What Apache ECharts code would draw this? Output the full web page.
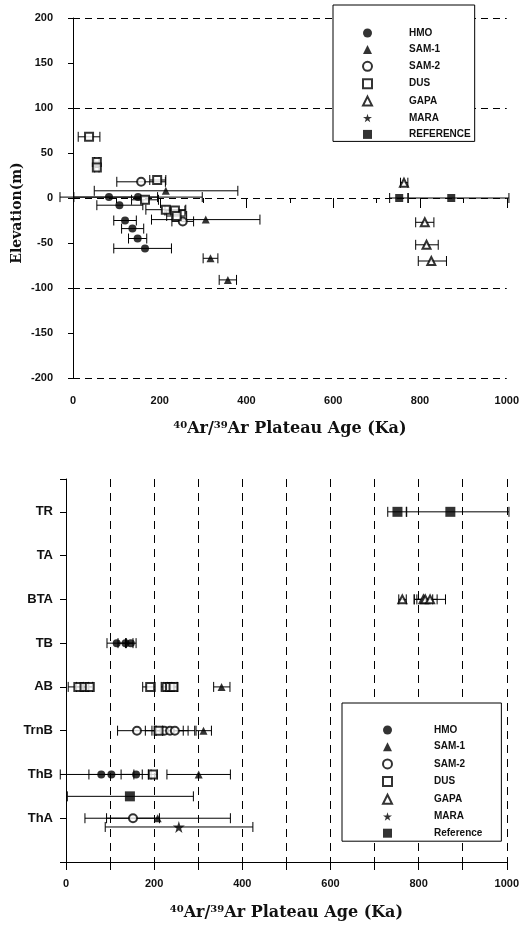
<!DOCTYPE html>
<html>
<head>
<meta charset="utf-8">
<script src="https://cdn.jsdelivr.net/npm/echarts@6/dist/echarts.min.js"></script>
<style>
    html, body { margin: 0; padding: 0; background: #fff; }
    #chart { width: 522px; height: 933px; }
</style>
</head>
<body>
<div id="chart"></div>
<script>
// [age, elevation, ageLow, ageHigh]
var topHmo = [[83, 1, -30, 195], [150, 1, 2, 298], [107, -8, 55, 161], [120, -25, 94, 146], [137, -34, 112, 163], [149, -45, 128, 170], [166, -56, 94, 227]];
var topSam1 = [[214, 8, 49, 380], [306, -24, 181, 431], [317, -67, 300, 334], [357, -91, 337, 377]];
var topSam2 = [[157, 18, 101, 213], [253, -26, 228, 278]];
var topDus = [[37, 68, 12, 62], [55, 40, 50, 60], [55, 34, 50, 60], [194, 20, 177, 214], [166, -2, 135, 197], [214, -13, 168, 260], [235, -14, 212, 258], [239, -20, 216, 262]];
var topGapa = [[763, 17, 755, 772], [811, -27, 790, 832], [815, -52, 790, 842], [826, -70, 796, 861]];
var topRef = [[752, 0, 730, 772], [872, 0, 773, 1005]];

// [age, row, ageLow, ageHigh]
var botCats = ['ThA', 'ThB', 'TrnB', 'AB', 'TB', 'BTA', 'TA', 'TR'];
var botHmo = [[115, 5, 93, 137], [135, 5, 118, 152], [147, 5, 135, 159], [80, 2, -13, 173], [103, 2, 52, 154], [159, 2, 125, 193]];
var botSam1 = [[353, 4, 335, 372], [312, 3, 295, 330], [301, 2, 229, 373], [208, 1, 43, 373]];
var botSam2 = [[161, 3, 117, 205], [223, 3, 180, 266], [236, 3, 195, 277], [247, 3, 202, 292], [152, 1, 92, 212]];
var botDus = [[28, 4, 5, 51], [42, 4, 24, 60], [54, 4, 40, 61], [191, 4, 174, 202], [228, 4, 216, 240], [236, 4, 222, 250], [244, 4, 230, 253], [210, 3, 201, 219], [197, 2, 187, 207]];
var botGapa = [[763, 6, 755, 772], [811, 6, 790, 832], [815, 6, 790, 842], [826, 6, 796, 861]];
var botMara = [[256, 0.8, 89, 424]];
var botRef = [[752, 8, 730, 772], [872, 8, 773, 1005], [145, 1.5, 3, 289]];

var topNames = ['HMO', 'SAM-1', 'SAM-2', 'DUS', 'GAPA', 'MARA', 'REFERENCE'];
var botNames = ['HMO', 'SAM-1', 'SAM-2', 'DUS', 'GAPA', 'MARA', 'Reference'];

var star = 'path://M50,0 L61,35 L98,35 L68,57 L79,91 L50,70 L21,91 L32,57 L2,35 L39,35 Z';
var axisFont = { fontFamily: 'Arial', fontWeight: 'bold', fontSize: 11, color: '#111', formatter: function (v) { return String(v); } };
var titleStyle = {
    fontFamily: 'DejaVu Serif', fontWeight: 'bold', fontSize: 16, color: '#111',
    rich: { s: { fontFamily: 'DejaVu Serif', fontWeight: 'bold', fontSize: 10, color: '#111', padding: [0, 0, 7, 0] } }
};
var ageTitle = '{s|40}Ar/{s|39}Ar Plateau Age (Ka)';

function pts(arr) {
    return arr.map(function (p) { return [p[0], p[1]]; });
}
function bars(list) {
    var out = [];
    list.forEach(function (arr) {
        arr.forEach(function (p) { out.push([p[2], p[3], p[1]]); });
    });
    return out;
}
function renderBar(params, api) {
    var y = api.value(2);
    var a = api.coord([api.value(0), y]);
    var b = api.coord([api.value(1), y]);
    var h = 5;
    var st = { stroke: '#000', lineWidth: 1, fill: null };
    return {
        type: 'group', children: [
            { type: 'line', shape: { x1: a[0], y1: a[1], x2: b[0], y2: b[1] }, style: st },
            { type: 'line', shape: { x1: a[0], y1: a[1] - h, x2: a[0], y2: a[1] + h }, style: st },
            { type: 'line', shape: { x1: b[0], y1: b[1] - h, x2: b[0], y2: b[1] + h }, style: st }
        ]
    };
}
function scat(name, data, idx, symbol, size) {
    return {
        name: name, type: 'scatter', xAxisIndex: idx, yAxisIndex: idx, z: 5,
        symbol: symbol, symbolSize: size, data: pts(data),
        itemStyle: { color: '#000', borderColor: '#000', borderWidth: symbol.indexOf('empty') === 0 ? 1.2 : 0 }
    };
}
function legendFor(names, left, top, pad, txtPad, gap) {
    return {
        orient: 'vertical', left: left, top: top, itemWidth: 9, itemHeight: 9, itemGap: gap,
        padding: pad, backgroundColor: '#fff', borderColor: '#000', borderWidth: 1,
        selectedMode: false, data: names,
        formatter: function (n) { return '{t|' + n + '}'; },
        textStyle: { rich: { t: { padding: [0, 0, 0, txtPad], fontFamily: 'Arial', fontWeight: 'bold', fontSize: 10, lineHeight: 10, color: '#111' } } }
    };
}

var chart = echarts.init(document.getElementById('chart'));
var option = {
    backgroundColor: '#fff',
    animation: false,
    grid: [
        { left: 73, right: 15, top: 18, height: 360 },
        { left: 66, right: 8, top: 479, height: 383 }
    ],
    legend: [
        legendFor(topNames, 333, 5, [23, 4, 2, 29], 32, 6.4),
        legendFor(botNames, 342, 703, [22, 19, 3, 40], 37, 6.7)
    ],
    graphic: [{
        type: 'text', x: 17, y: 213, rotation: Math.PI / 2,
        style: { text: 'Elevation(m)', fontFamily: 'DejaVu Serif', fontWeight: 'bold', fontSize: 14, fill: '#111', align: 'center', verticalAlign: 'middle' }
    }],
    xAxis: [{
        gridIndex: 0, type: 'value', min: 0, max: 1000, interval: 200,
        axisLine: { show: false },
        axisTick: { show: true, length: 10, lineStyle: { color: '#000' } },
        minorTick: { show: true, splitNumber: 2, length: 5, lineStyle: { color: '#000' } },
        splitLine: { show: false },
        axisLabel: Object.assign({ margin: 17 }, axisFont),
        name: ageTitle, nameLocation: 'middle', nameGap: 42, nameTextStyle: titleStyle
    }, {
        gridIndex: 1, type: 'value', min: 0, max: 1000, interval: 200,
        axisLine: { show: true, lineStyle: { color: '#000', width: 1 } },
        axisTick: { show: true, length: 8, lineStyle: { color: '#000' } },
        minorTick: { show: true, splitNumber: 2, length: 8, lineStyle: { color: '#000' } },
        splitLine: { show: true, lineStyle: { color: '#000', type: [8, 6], width: 1 } },
        minorSplitLine: { show: true, lineStyle: { color: '#000', type: [8, 6], width: 1 } },
        axisLabel: Object.assign({ margin: 16 }, axisFont),
        name: ageTitle, nameLocation: 'middle', nameGap: 42, nameTextStyle: titleStyle
    }],
    yAxis: [{
        gridIndex: 0, type: 'value', min: -200, max: 200, interval: 50,
        axisLine: { show: true, lineStyle: { color: '#000', width: 1 } },
        axisTick: { show: true, length: 5, lineStyle: { color: '#000' } },
        splitLine: { show: true, lineStyle: { color: ['#000', 'rgba(0,0,0,0)'], type: [7, 5], width: 1 } },
        axisLabel: Object.assign({ margin: 20 }, axisFont)
    }, {
        gridIndex: 1, type: 'value', min: 0, max: 8.75, interval: 1,
        axisLine: { show: true, lineStyle: { color: '#000', width: 1 } },
        axisTick: { show: true, length: 6, lineStyle: { color: '#000' } },
        splitLine: { show: false },
        axisLabel: {
            margin: 13, fontFamily: 'Arial', fontWeight: 'bold', fontSize: 13, color: '#111',
            formatter: function (v) { return (v >= 1 && v === Math.round(v)) ? (botCats[v - 1] || '') : ''; }
        }
    }],
    series: [
        { type: 'custom', name: 'errTop', xAxisIndex: 0, yAxisIndex: 0, z: 3, silent: true, renderItem: renderBar, encode: { x: [0, 1], y: 2 },
          data: bars([topHmo, topSam1, topSam2, topDus, topGapa, topRef]) },
        { type: 'custom', name: 'errBot', xAxisIndex: 1, yAxisIndex: 1, z: 3, silent: true, renderItem: renderBar, encode: { x: [0, 1], y: 2 },
          data: bars([botHmo, botSam1, botSam2, botDus, botGapa, botMara, botRef]) },
        scat('HMO', topHmo, 0, 'circle', 8),
        scat('SAM-1', topSam1, 0, 'triangle', 8),
        scat('SAM-2', topSam2, 0, 'emptyCircle', 8),
        scat('DUS', topDus, 0, 'emptyRect', 8),
        scat('GAPA', topGapa, 0, 'emptyTriangle', 8),
        scat('REFERENCE', topRef, 0, 'rect', 8),
        scat('HMO', botHmo, 1, 'circle', 8),
        scat('SAM-1', botSam1, 1, 'triangle', 8),
        scat('SAM-2', botSam2, 1, 'emptyCircle', 8),
        scat('DUS', botDus, 1, 'emptyRect', 8),
        scat('GAPA', botGapa, 1, 'emptyTriangle', 8),
        scat('MARA', botMara, 1, star, 12),
        scat('Reference', botRef, 1, 'rect', 10)
    ]
};
chart.setOption(option);
</script>
</body>
</html>
